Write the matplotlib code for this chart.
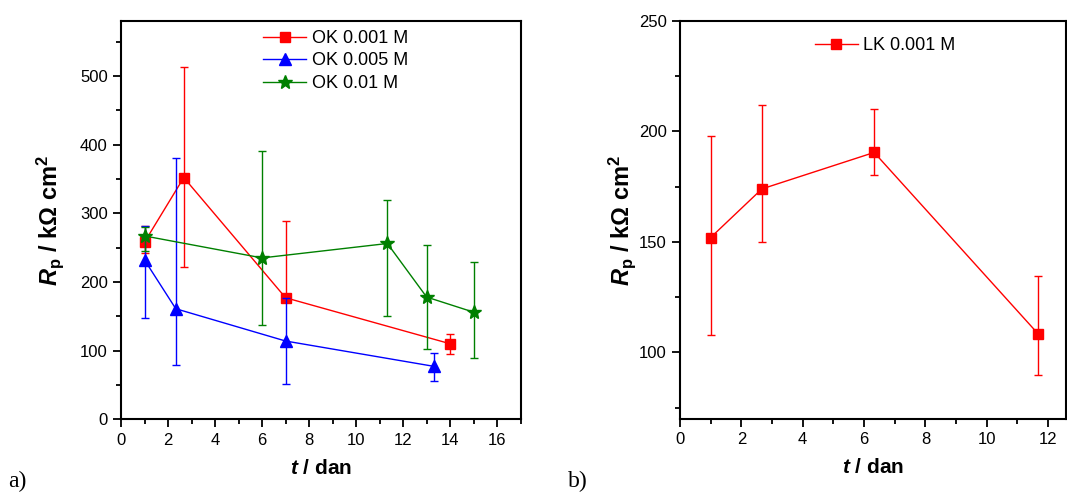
import numpy as np
import matplotlib.pyplot as plt
from matplotlib.ticker import MultipleLocator

# a) OK
ok1_x = [1, 2.67, 7, 14]
ok1_y = [258, 352, 177, 110]
ok1_lo = [242, 222, 177, 95]
ok1_hi = [282, 513, 289, 124]

ok5_x = [1, 2.33, 7, 13.33]
ok5_y = [232, 161, 114, 77]
ok5_lo = [148, 79, 52, 56]
ok5_hi = [282, 380, 177, 96]

ok10_x = [1, 6, 11.33, 13, 15]
ok10_y = [267, 235, 256, 178, 156]
ok10_lo = [245, 137, 150, 102, 90]
ok10_hi = [280, 390, 319, 254, 229]

# b) LK
lk_x = [1, 2.67, 6.33, 11.67]
lk_y = [152, 174, 190.5, 108.5]
lk_lo = [108, 150, 180.5, 90]
lk_hi = [198, 212, 210, 134.5]

plt.rcParams['font.family'] = ['Liberation Sans', 'DejaVu Sans']
plt.rcParams['mathtext.fontset'] = 'custom'
plt.rcParams['mathtext.rm'] = 'Liberation Sans'
plt.rcParams['mathtext.it'] = 'Liberation Sans:italic'
plt.rcParams['mathtext.bf'] = 'Liberation Sans:bold'
plt.rcParams['mathtext.bfit'] = 'Liberation Sans:bold:italic'

fig = plt.figure(figsize=(10.67, 4.97), dpi=100)
ax1 = fig.add_axes([0.1134, 0.1563, 0.3746, 0.8015])
ax2 = fig.add_axes([0.6373, 0.1575, 0.3622, 0.8003])


def draw(ax, x, y, lo, hi, color, marker, ms, label):
    y = np.array(y)
    err = [y - np.array(lo), np.array(hi) - y]
    ax.errorbar(x, y, yerr=err, fmt='none', ecolor=color, elinewidth=1,
                capsize=3, capthick=1)
    ax.plot(x, y, color=color, marker=marker, ms=ms, lw=1, label=label)


draw(ax1, ok1_x, ok1_y, ok1_lo, ok1_hi, 'red', 's', 7, 'OK 0.001 M')
draw(ax1, ok5_x, ok5_y, ok5_lo, ok5_hi, 'blue', '^', 9, 'OK 0.005 M')
draw(ax1, ok10_x, ok10_y, ok10_lo, ok10_hi, 'green', '*', 10, 'OK 0.01 M')
draw(ax2, lk_x, lk_y, lk_lo, lk_hi, 'red', 's', 7, 'LK 0.001 M')

ax1.set_xlim(0, 17)
ax1.set_ylim(0, 580)
ax1.xaxis.set_major_locator(MultipleLocator(2))
ax1.xaxis.set_minor_locator(MultipleLocator(1))
ax1.yaxis.set_major_locator(MultipleLocator(100))
ax1.yaxis.set_minor_locator(MultipleLocator(50))

ax2.set_xlim(0, 12.6)
ax2.set_ylim(70, 250)
ax2.xaxis.set_major_locator(MultipleLocator(2))
ax2.xaxis.set_minor_locator(MultipleLocator(1))
ax2.yaxis.set_major_locator(MultipleLocator(50))
ax2.yaxis.set_minor_locator(MultipleLocator(25))

for ax in (ax1, ax2):
    for s in ax.spines.values():
        s.set_linewidth(1.5)
    ax.tick_params(which='major', direction='out', length=6, width=1.3, labelsize=12)
    ax.tick_params(which='minor', direction='out', length=3.5, width=1.3)
    ax.set_xlabel(r'$\mathbfit{t}$ / dan', fontsize=15, fontweight='bold', labelpad=8)
    ax.set_ylabel(r'$\mathbfit{R}_\mathbf{p}$ / k$\mathbf{\Omega}$ cm$^\mathbf{2}$',
                  fontsize=17, fontweight='bold')

ax1.legend(loc='upper center', bbox_to_anchor=(0.537, 1.0), frameon=False,
           fontsize=13, handlelength=2.4, borderaxespad=0.1, labelspacing=0.3,
           handletextpad=0.3)
ax2.legend(loc='upper center', bbox_to_anchor=(0.531, 1.0), frameon=False,
           fontsize=13, handlelength=2.4, borderaxespad=0.5, handletextpad=0.3)

ax1.yaxis.labelpad = 10
ax2.yaxis.labelpad = 1

fig.text(0.008, 0.02, 'a)', family='Liberation Serif', fontsize=17)
fig.text(0.532, 0.02, 'b)', family='Liberation Serif', fontsize=17)

fig.savefig('out.png', dpi=100)
